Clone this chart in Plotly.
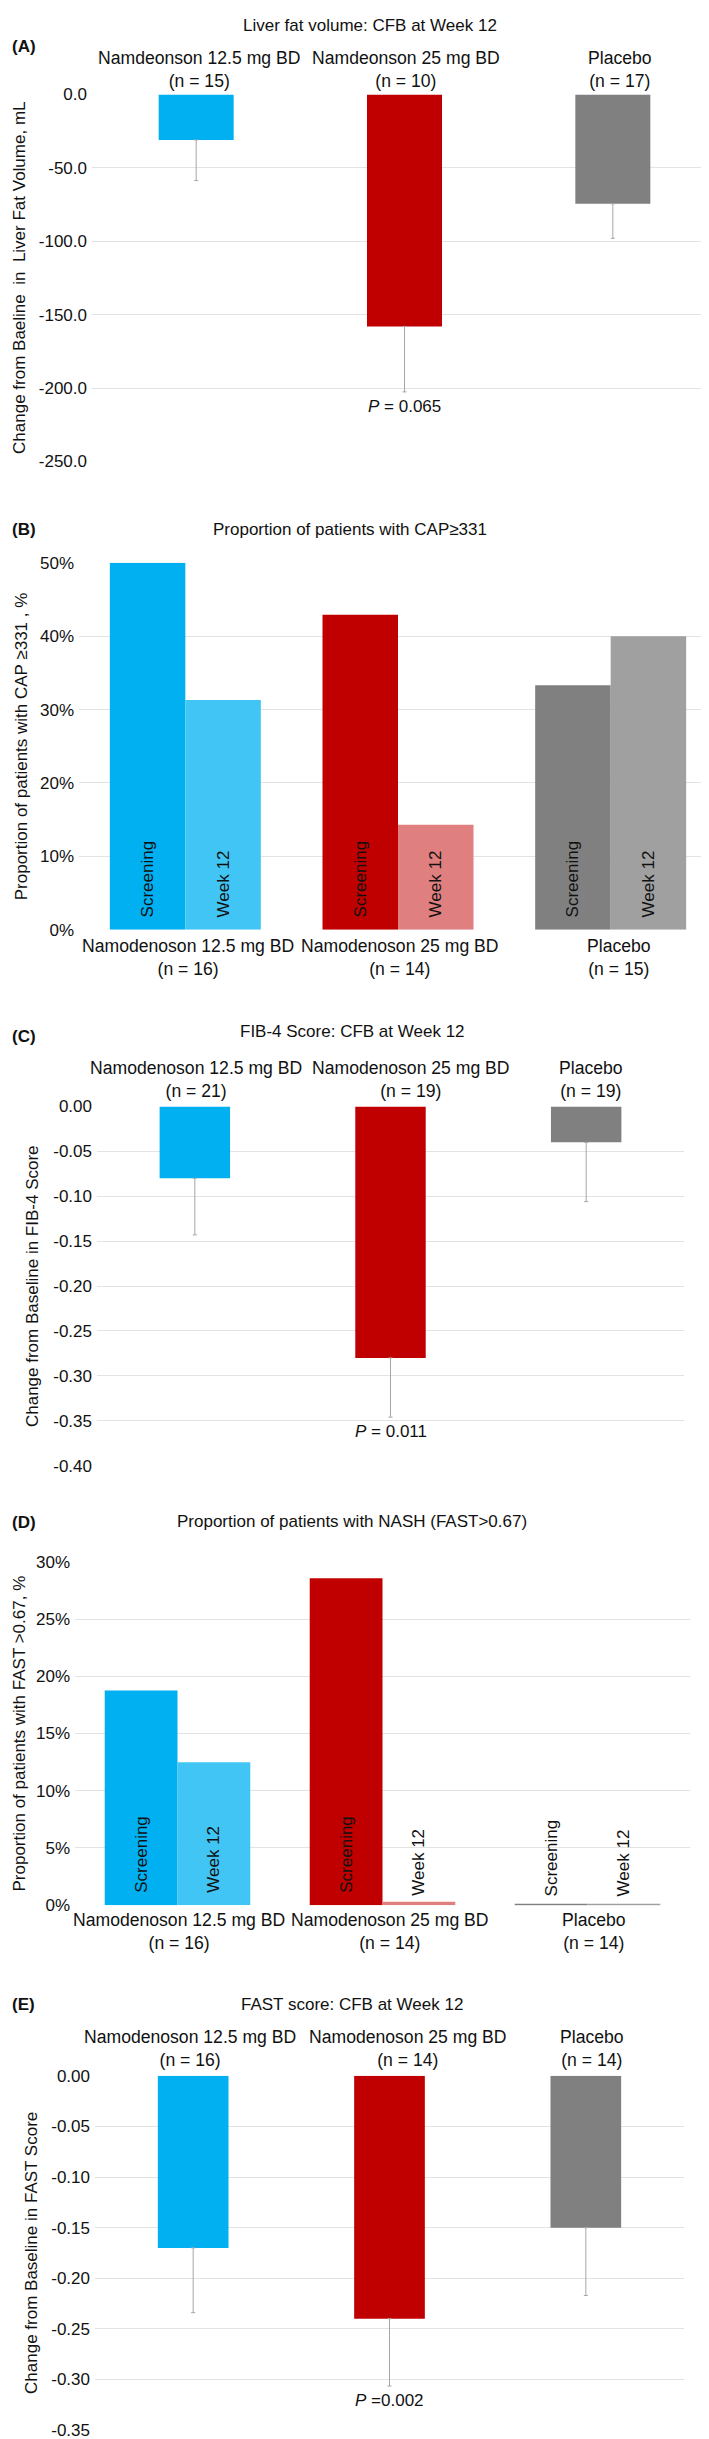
import plotly.graph_objects as go

W, H = 709, 2439

# ---------------- data ----------------
cats_A = ["Namdeonson 12.5 mg BD<br>(n = 15)", "Namdeonson 25 mg BD<br>(n = 10)", "Placebo<br>(n = 17)"]
vals_A = [-31.0, -158.0, -74.5]
err_A = [27.7, 44.6, 23.5]
ticks_A = [0, -50, -100, -150, -200, -250]

cats_B = ["Namodenoson 12.5 mg BD<br>(n = 16)", "Namodenoson 25 mg BD<br>(n = 14)", "Placebo<br>(n = 15)"]
screen_B = [50.0, 42.9, 33.3]
wk12_B = [31.3, 14.3, 40.0]
ticks_B = [0, 10, 20, 30, 40, 50]

cats_C = ["Namodenoson 12.5 mg BD<br>(n = 21)", "Namodenoson 25 mg BD<br>(n = 19)", "Placebo<br>(n = 19)"]
vals_C = [-0.08, -0.28, -0.04]
err_C = [0.063, 0.066, 0.066]
ticks_C = [0, -0.05, -0.10, -0.15, -0.20, -0.25, -0.30, -0.35, -0.40]

cats_D = ["Namodenoson 12.5 mg BD<br>(n = 16)", "Namodenoson 25 mg BD<br>(n = 14)", "Placebo<br>(n = 14)"]
screen_D = [18.75, 28.57, 0.12]
wk12_D = [12.5, 0.3, 0.06]
ticks_D = [0, 5, 10, 15, 20, 25, 30]

cats_E = ["Namodenoson 12.5 mg BD<br>(n = 16)", "Namodenoson 25 mg BD<br>(n = 14)", "Placebo<br>(n = 14)"]
vals_E = [-0.17, -0.24, -0.15]
err_E = [0.064, 0.0665, 0.067]
ticks_E = [0, -0.05, -0.10, -0.15, -0.20, -0.25, -0.30, -0.35]

p_texts = {"A": "<i>P</i> = 0.065", "C": "<i>P</i> = 0.011", "E": "<i>P</i> =0.002"}

# ---------------- style ----------------
FONT = "Liberation Sans, Arial, Helvetica, sans-serif"
FS = 17
FS_CAT = 17.6
TXT = "#111111"
BLUE, RED, GRAY = "#00B0F0", "#C00000", "#808080"
LBLUE, LRED, LGRAY = "#41C5F4", "#E07F7F", "#A0A0A0"
GRID = "#E3E3E3"
ERRC = "#A6A6A6"
PADTXT = "\u00a0\u00a0"  # lifts the in-bar labels off the baseline


def py(p):
    return 1 - p / H


def px(p):
    return p / W


fig = go.Figure()

# panel geometry (pixels): x0, x1, ytop, ybottom
geo = {
    "A": (84, 709, 78, 448),
    "B": (71, 709, 550, 920),
    "C": (89, 676, 1098, 1460),
    "D": (67, 682, 1557, 1903),
    "E": (87, 676, 2075, 2432),
}
# category label block placement (pixel centres)
cat_pos = {
    "A": ([191, 398, 612], 53),
    "B": ([180, 392, 611], 948),
    "C": ([188, 403, 583], 1071),
    "D": ([171, 382, 586], 1930),
    "E": ([182, 400, 584], 2047),
}
axis_ids = {"A": "", "B": "2", "C": "3", "D": "4", "E": "5"}
all_cats = {"A": cats_A, "B": cats_B, "C": cats_C, "D": cats_D, "E": cats_E}

# single-bar panels
for key, cats, vals, errs in [("A", cats_A, vals_A, err_A), ("C", cats_C, vals_C, err_C), ("E", cats_E, vals_E, err_E)]:
    a = axis_ids[key]
    fig.add_trace(go.Bar(
        x=cats, y=vals, width=0.36,
        marker=dict(color=[BLUE, RED, GRAY], line=dict(width=0)),
        error_y=dict(type="data", symmetric=False, array=[0, 0, 0], arrayminus=errs,
                     color=ERRC, thickness=1, width=2),
        xaxis="x" + a, yaxis="y" + a, showlegend=False,
    ))
    # P-value under the 25 mg error bar
    fig.add_annotation(
        x=cats[1], y=vals[1] - errs[1], xref="x" + a, yref="y" + a,
        text=p_texts[key], showarrow=False, yanchor="top", yshift=-3,
        font=dict(family=FONT, size=FS, color=TXT),
    )

# grouped panels
for key, cats, scr, wk in [("B", cats_B, screen_B, wk12_B), ("D", cats_D, screen_D, wk12_D)]:
    a = axis_ids[key]
    for vals, cols, lab in [(scr, [BLUE, RED, GRAY], "Screening"), (wk, [LBLUE, LRED, LGRAY], "Week 12")]:
        fig.add_trace(go.Bar(
            x=cats, y=vals, marker=dict(color=cols, line=dict(width=0)),
            text=[PADTXT + lab] * 3, textposition="inside", insidetextanchor="start",
            textangle=-90, constraintext="none",
            textfont=dict(family=FONT, size=FS, color=TXT),
            xaxis="x" + a, yaxis="y" + a, showlegend=False,
        ))


def fmt(v, key):
    if key in ("B", "D"):
        return f"{v}%"
    if key == "A":
        return f"{v:.1f}"
    return f"{v:.2f}"


ticks = {"A": ticks_A, "B": ticks_B, "C": ticks_C, "D": ticks_D, "E": ticks_E}
ranges = {"A": [-250, 0], "B": [0, 50], "C": [-0.40, 0], "D": [0, 30], "E": [-0.35, 0]}

layout = dict(
    width=W, height=H, margin=dict(l=0, r=0, t=0, b=0),
    paper_bgcolor="white", plot_bgcolor="white",
    barmode="group", bargap=0.29, bargroupgap=0,
    font=dict(family=FONT, size=FS, color=TXT),
)
for key, (x0, x1, yt, yb) in geo.items():
    a = axis_ids[key]
    side = "bottom" if key in ("B", "D") else "top"
    layout["xaxis" + a] = dict(
        domain=[px(x0), px(x1)], anchor="y" + a, side=side, tickangle=0,
        showgrid=False, showline=False, zeroline=False, ticks="", showticklabels=False,
        fixedrange=True,
    )
    tv = ticks[key]
    layout["yaxis" + a] = dict(
        domain=[py(yb), py(yt)], anchor="x" + a, range=ranges[key],
        tickmode="array", tickvals=tv, ticktext=[fmt(v, key) for v in tv],
        showgrid=True, gridcolor=GRID, gridwidth=1, zeroline=False, showline=False,
        ticks="", ticklabelstandoff=4,
        tickfont=dict(family=FONT, size=FS, color=TXT), fixedrange=True,
    )
fig.update_layout(**layout)

# category labels (placed as in the original, slightly off the bar centres)
for key, (xs, yc) in cat_pos.items():
    for cx, lab in zip(xs, all_cats[key]):
        fig.add_annotation(x=px(cx), y=py(yc), xref="paper", yref="paper", text=lab,
                           showarrow=False, xanchor="center", yanchor="middle",
                           font=dict(family=FONT, size=FS_CAT, color=TXT))

# titles, panel letters, y-axis titles
titles = [
    ("(A)", "Liver fat volume: CFB at Week 12", 30, 362, 9,
     "Change from Baeline  in  Liver Fat Volume, mL", 12),
    ("(B)", "Proportion of patients with CAP\u2265331", 517, 342, 517,
     "Proportion of patients with CAP \u2265331 , %", 13),
    ("(C)", "FIB-4 Score: CFB at Week 12", 1028, 344, 1022,
     "Change from Baseline in FIB-4 Score", 24),
    ("(D)", "Proportion of patients with NASH (FAST>0.67)", 1517, 344, 1516,
     "Proportion of patients with FAST >0.67, %", 12),
    ("(E)", "FAST score: CFB at Week 12", 2003, 344, 2003,
     "Change from Baseline in FAST Score", 24),
]
for (letter, title, ly, tx, ty, ytitle, yx), key in zip(titles, ["A", "B", "C", "D", "E"]):
    x0, x1, yt, yb = geo[key]
    fig.add_annotation(x=px(2), y=py(ly), xref="paper", yref="paper", text=f"<b>{letter}</b>",
                       showarrow=False, xanchor="left", yanchor="middle",
                       font=dict(family=FONT, size=FS, color=TXT))
    fig.add_annotation(x=px(tx), y=py(ty), xref="paper", yref="paper", text=title,
                       showarrow=False, xanchor="center", yanchor="middle",
                       font=dict(family=FONT, size=FS, color=TXT))
    fig.add_annotation(x=px(yx), y=py((yt + yb) / 2), xref="paper", yref="paper", text=ytitle,
                       showarrow=False, xanchor="center", yanchor="middle", textangle=-90,
                       font=dict(family=FONT, size=FS, color=TXT))

fig.write_html("out.html")
